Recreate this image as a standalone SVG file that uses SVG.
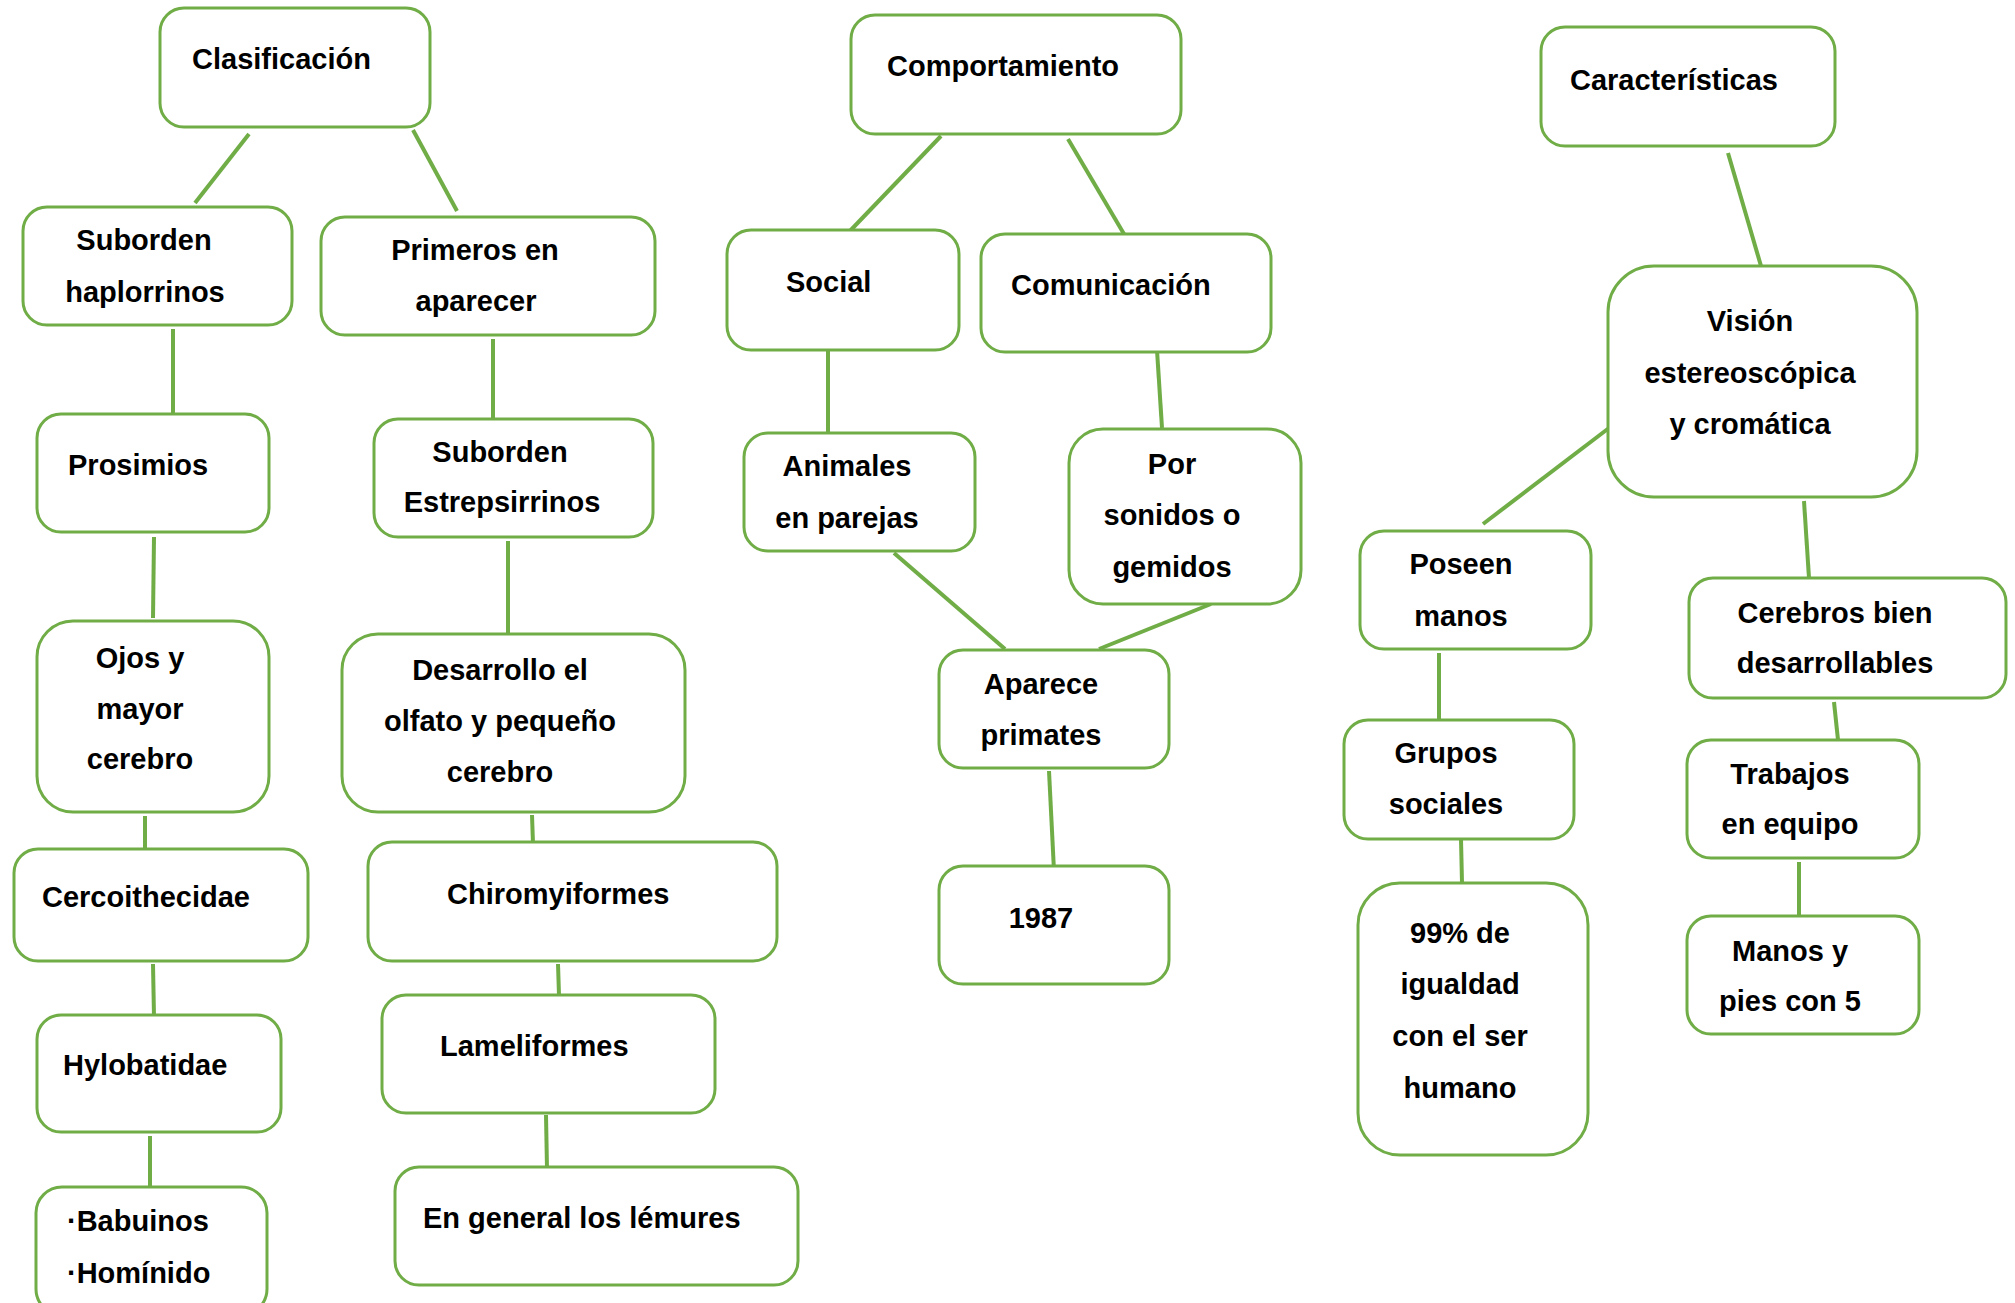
<svg xmlns="http://www.w3.org/2000/svg" width="2015" height="1303" viewBox="0 0 2015 1303">
<style>
.b{fill:#fff;stroke:#70AD47;stroke-width:3}
.t{font-family:"Liberation Sans",Arial,sans-serif;font-weight:bold;font-size:29px;fill:#000}
.m{text-anchor:middle}
#connectors line{stroke:#70AD47;stroke-width:4;stroke-linecap:butt}
</style>
<rect width="2015" height="1303" fill="#fff"/>
<g id="connectors">
<line x1="249" y1="134" x2="195" y2="203"/>
<line x1="413" y1="130" x2="457" y2="211"/>
<line x1="173" y1="329" x2="173" y2="416"/>
<line x1="493" y1="339" x2="493" y2="421"/>
<line x1="154" y1="537" x2="153" y2="618"/>
<line x1="508" y1="541" x2="508" y2="634"/>
<line x1="145" y1="816" x2="145" y2="849"/>
<line x1="532" y1="815" x2="533" y2="844"/>
<line x1="153" y1="964" x2="154" y2="1017"/>
<line x1="558" y1="964" x2="559" y2="995"/>
<line x1="150" y1="1136" x2="150" y2="1190"/>
<line x1="546" y1="1115" x2="547" y2="1169"/>
<line x1="941" y1="136" x2="848" y2="233"/>
<line x1="1068" y1="139" x2="1124" y2="234"/>
<line x1="828" y1="350" x2="828" y2="433"/>
<line x1="1157" y1="350" x2="1162" y2="428"/>
<line x1="894" y1="553" x2="1005" y2="649"/>
<line x1="1211" y1="604" x2="1099" y2="649"/>
<line x1="1049" y1="771" x2="1054" y2="871"/>
<line x1="1728" y1="153" x2="1761" y2="266"/>
<line x1="1609" y1="428" x2="1483" y2="524"/>
<line x1="1804" y1="501" x2="1809" y2="578"/>
<line x1="1439" y1="653" x2="1439" y2="721"/>
<line x1="1834" y1="702" x2="1838" y2="740"/>
<line x1="1461" y1="839" x2="1462" y2="883"/>
<line x1="1799" y1="862" x2="1799" y2="916"/>
</g>
<g id="clasificacion"><rect class="b" x="160" y="8" width="270" height="119" rx="24"/><text class="t" x="192" y="69">Clasificación</text></g>
<g id="suborden-haplorrinos"><rect class="b" x="23" y="207" width="269" height="118" rx="24"/><text class="t m" x="144" y="250">Suborden</text><text class="t m" x="145" y="302">haplorrinos</text></g>
<g id="primeros"><rect class="b" x="321" y="217" width="334" height="118" rx="24"/><text class="t m" x="475" y="260">Primeros en</text><text class="t m" x="476" y="311">aparecer</text></g>
<g id="prosimios"><rect class="b" x="37" y="414" width="232" height="118" rx="24"/><text class="t" x="68" y="475">Prosimios</text></g>
<g id="suborden-estrepsirrinos"><rect class="b" x="374" y="419" width="279" height="118" rx="24"/><text class="t m" x="500" y="462">Suborden</text><text class="t m" x="502" y="512">Estrepsirrinos</text></g>
<g id="ojos"><rect class="b" x="37" y="621" width="232" height="191" rx="36"/><text class="t m" x="140" y="668">Ojos y</text><text class="t m" x="140" y="719">mayor</text><text class="t m" x="140" y="769">cerebro</text></g>
<g id="desarrollo"><rect class="b" x="342" y="634" width="343" height="178" rx="36"/><text class="t m" x="500" y="680">Desarrollo el</text><text class="t m" x="500" y="731">olfato y pequeño</text><text class="t m" x="500" y="782">cerebro</text></g>
<g id="cercoithecidae"><rect class="b" x="14" y="849" width="294" height="112" rx="24"/><text class="t" x="42" y="907">Cercoithecidae</text></g>
<g id="chiromyiformes"><rect class="b" x="368" y="842" width="409" height="119" rx="24"/><text class="t" x="447" y="904">Chiromyiformes</text></g>
<g id="hylobatidae"><rect class="b" x="37" y="1015" width="244" height="117" rx="24"/><text class="t" x="63" y="1075">Hylobatidae</text></g>
<g id="lameliformes"><rect class="b" x="382" y="995" width="333" height="118" rx="24"/><text class="t" x="440" y="1056">Lameliformes</text></g>
<g id="babuinos"><rect class="b" x="36" y="1187" width="231" height="128" rx="26"/><text class="t" x="67" y="1231">·Babuinos</text><text class="t" x="67" y="1283">·Homínido</text></g>
<g id="lemures"><rect class="b" x="395" y="1167" width="403" height="118" rx="24"/><text class="t" x="423" y="1228">En general los lémures</text></g>
<g id="comportamiento"><rect class="b" x="851" y="15" width="330" height="119" rx="24"/><text class="t" x="887" y="76">Comportamiento</text></g>
<g id="social"><rect class="b" x="727" y="230" width="232" height="120" rx="24"/><text class="t" x="786" y="292">Social</text></g>
<g id="comunicacion"><rect class="b" x="981" y="234" width="290" height="118" rx="24"/><text class="t" x="1011" y="295">Comunicación</text></g>
<g id="animales"><rect class="b" x="744" y="433" width="231" height="118" rx="24"/><text class="t m" x="847" y="476">Animales</text><text class="t m" x="847" y="528">en parejas</text></g>
<g id="sonidos"><rect class="b" x="1069" y="429" width="232" height="175" rx="34"/><text class="t m" x="1172" y="474">Por</text><text class="t m" x="1172" y="525">sonidos o</text><text class="t m" x="1172" y="577">gemidos</text></g>
<g id="aparece"><rect class="b" x="939" y="650" width="230" height="118" rx="24"/><text class="t m" x="1041" y="694">Aparece</text><text class="t m" x="1041" y="745">primates</text></g>
<g id="y1987"><rect class="b" x="939" y="866" width="230" height="118" rx="24"/><text class="t m" x="1041" y="928">1987</text></g>
<g id="caracteristicas"><rect class="b" x="1541" y="27" width="294" height="119" rx="24"/><text class="t" x="1570" y="90">Características</text></g>
<g id="vision"><rect class="b" x="1608" y="266" width="309" height="231" rx="46"/><text class="t m" x="1750" y="331">Visión</text><text class="t m" x="1750" y="383">estereoscópica</text><text class="t m" x="1750" y="434">y cromática</text></g>
<g id="poseen"><rect class="b" x="1360" y="531" width="231" height="118" rx="24"/><text class="t m" x="1461" y="574">Poseen</text><text class="t m" x="1461" y="626">manos</text></g>
<g id="cerebros"><rect class="b" x="1689" y="578" width="317" height="120" rx="24"/><text class="t m" x="1835" y="623">Cerebros bien</text><text class="t m" x="1835" y="673">desarrollables</text></g>
<g id="grupos"><rect class="b" x="1344" y="720" width="230" height="119" rx="24"/><text class="t m" x="1446" y="763">Grupos</text><text class="t m" x="1446" y="814">sociales</text></g>
<g id="trabajos"><rect class="b" x="1687" y="740" width="232" height="118" rx="24"/><text class="t m" x="1790" y="784">Trabajos</text><text class="t m" x="1790" y="834">en equipo</text></g>
<g id="igualdad"><rect class="b" x="1358" y="883" width="230" height="272" rx="42"/><text class="t m" x="1460" y="943">99% de</text><text class="t m" x="1460" y="994">igualdad</text><text class="t m" x="1460" y="1046">con el ser</text><text class="t m" x="1460" y="1098">humano</text></g>
<g id="manos"><rect class="b" x="1687" y="916" width="232" height="118" rx="24"/><text class="t m" x="1790" y="961">Manos y</text><text class="t m" x="1790" y="1011">pies con 5</text></g>
</svg>
